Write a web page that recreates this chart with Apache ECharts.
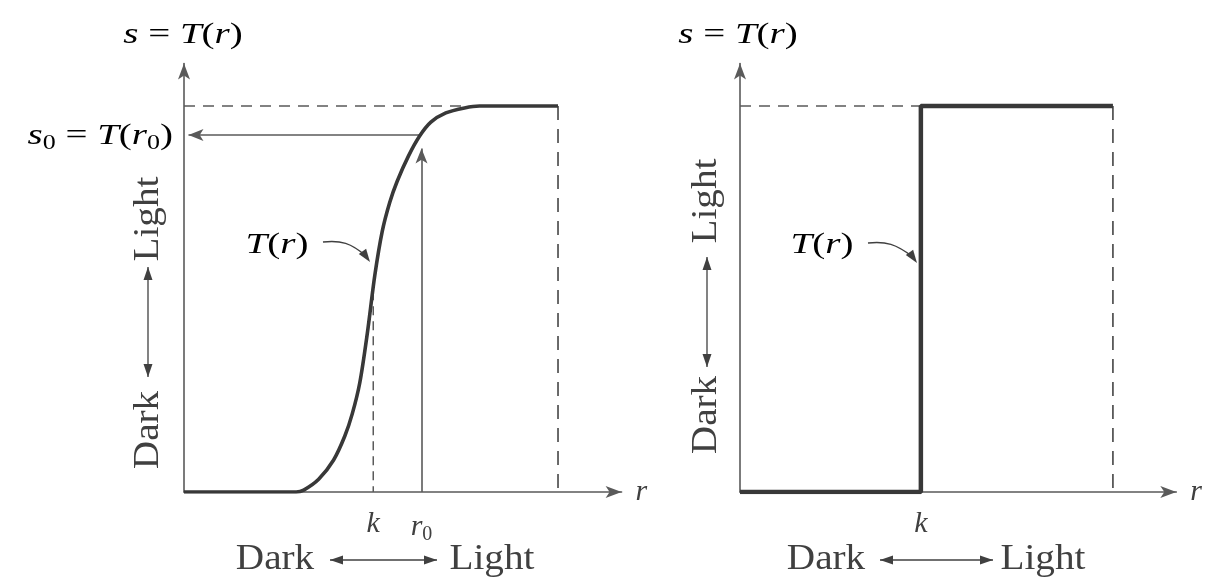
<!DOCTYPE html>
<html>
<head>
<meta charset="utf-8">
<title>s = T(r)</title>
<script src="https://cdn.jsdelivr.net/npm/echarts@6/dist/echarts.min.js"></script>
<style>
  html, body { margin: 0; background: #fff; }
  #main { width: 1205px; height: 581px; }
</style>
</head>
<body>
<div id="main"></div>
<script>
// left panel: contrast-stretching curve s = T(r)
var curveR = [0, 0.30, 0.32, 0.36, 0.40, 0.43, 0.45, 0.47, 0.49, 0.51, 0.53, 0.55, 0.57, 0.60, 0.63, 0.66, 0.70, 0.75, 0.79, 1.0];
var curveS = [0, 0, 0.005, 0.033, 0.083, 0.145, 0.203, 0.283, 0.41, 0.56, 0.675, 0.75, 0.805, 0.87, 0.922, 0.958, 0.982, 0.995, 1, 1];
var kLeft = 0.506, kLeftS = 0.52;
var r0 = 0.635, s0 = 0.925;

// right panel: thresholding function
var stepR = [0, 0.485, 0.485, 1.0];
var stepS = [0, 0, 1, 1];
var kRight = 0.485;

var rMax = 1.17, sMax = 1.11;

var ink = '#404040';
var axisInk = '#5a5a5a';
var serif = '"Liberation Serif", "DejaVu Serif", serif';

function pairs(xs, ys) {
  return xs.map(function (x, i) { return [x, ys[i]]; });
}

var mathRich = {
  i: { fontFamily: serif, fontStyle: 'italic', fontSize: 30, color: ink },
  n: { fontFamily: serif, fontSize: 30, color: ink },
  sub: { fontFamily: serif, fontSize: 20, color: ink, padding: [16, 0, 0, 0] }
};

function axisX(idx, labels) {
  return {
    gridIndex: idx, type: 'value', min: 0, max: rMax,
    name: '{i|r}', nameLocation: 'end', nameGap: 14,
    nameTextStyle: { rich: mathRich, verticalAlign: 'middle' },
    axisLine: { show: true, onZero: false, symbol: ['none', 'arrow'], symbolSize: [9, 16],
      lineStyle: { color: axisInk, width: 1.6 } },
    axisTick: { show: false },
    splitLine: { show: false },
    axisLabel: {
      show: true, margin: 17, customValues: labels,
      formatter: function (v) {
        return Math.abs(v - r0) < 1e-6 ? '{i|r}{sub|0}' : '{i|k}';
      },
      rich: mathRich
    }
  };
}

function axisY(idx) {
  return {
    gridIndex: idx, type: 'value', min: 0, max: sMax,
    axisLine: { show: true, onZero: false, symbol: ['none', 'arrow'], symbolSize: [9, 16],
      lineStyle: { color: axisInk, width: 1.6 } },
    axisTick: { show: false },
    splitLine: { show: false },
    axisLabel: { show: false }
  };
}

function lineSeries(idx, data, width, type, color) {
  return {
    type: 'line', xAxisIndex: idx, yAxisIndex: idx, data: data,
    symbol: 'none', silent: true,
    lineStyle: { color: color || ink, width: width, type: type || 'solid' }
  };
}

var curve = lineSeries(0, pairs(curveR, curveS), 3.6, 'solid', '#383838');
curve.smooth = 0.3;
curve.z = 5;

var r0Arrows = lineSeries(0, [], 1);
r0Arrows.markLine = {
  silent: true, symbol: ['none', 'arrow'], symbolSize: [9, 15],
  label: { show: false },
  lineStyle: { color: axisInk, width: 1.6, type: 'solid' },
  data: [
    [{ coord: [r0, 0] }, { coord: [r0, s0 - 0.035] }],
    [{ coord: [r0, s0] }, { coord: [0.012, s0] }]
  ]
};

var step = lineSeries(1, pairs(stepR, stepS), 4.5, 'solid', '#383838');
step.z = 5;

// annotation helpers (arrows and labels outside the plot)
function head(x, y, dx, dy) {
  var l = Math.sqrt(dx * dx + dy * dy), ux = dx / l, uy = dy / l;
  var bx = x - ux * 13, by = y - uy * 13;
  return { type: 'polygon', silent: true,
    shape: { points: [[x, y], [bx - uy * 4.5, by + ux * 4.5], [bx + uy * 4.5, by - ux * 4.5]] },
    style: { fill: ink } };
}
function dbl(x1, y1, x2, y2) {
  return [
    { type: 'line', silent: true, shape: { x1: x1, y1: y1, x2: x2, y2: y2 }, style: { stroke: ink, lineWidth: 1.3 } },
    head(x1, y1, x1 - x2, y1 - y2), head(x2, y2, x2 - x1, y2 - y1)
  ];
}
function word(txt, x, y, rot) {
  return { type: 'text', silent: true, x: x, y: y, rotation: rot || 0, scaleX: 1.12,
    style: { text: txt, font: '35px ' + serif, fill: ink, align: 'center', verticalAlign: 'middle' } };
}
function mathText(txt, x, y, align) {
  return { type: 'text', silent: true, x: x, y: y, scaleX: 1.3,
    style: { text: txt, rich: mathRich, align: align || 'center', verticalAlign: 'middle' } };
}
function leader(x, y, tx, ty) {
  return [
    { type: 'bezierCurve', silent: true,
      shape: { x1: x, y1: y, cpx1: x + 18, cpy1: y - 2, cpx2: x + 28, cpy2: y + 1, x2: tx - 4, y2: ty - 6 },
      style: { stroke: ink, lineWidth: 1.4, fill: null } },
    head(tx, ty, 5, 7)
  ];
}

var graphics = [].concat(
  mathText('{i|s}{n| = }{i|T}{n|(}{i|r}{n|)}', 183, 35),
  mathText('{i|s}{sub|0}{n| = }{i|T}{n|(}{i|r}{sub|0}{n|)}', 173, 136, 'right'),
  word('Light', 149, 219, Math.PI / 2),
  word('Dark', 149, 430, Math.PI / 2),
  dbl(148, 267, 148, 377),
  mathText('{i|T}{n|(}{i|r}{n|)}', 277, 245),
  leader(323, 242, 370, 262),
  word('Dark', 275, 560),
  word('Light', 492, 560),
  dbl(330, 560, 437, 560),

  mathText('{i|s}{n| = }{i|T}{n|(}{i|r}{n|)}', 738, 35),
  word('Light', 707, 201, Math.PI / 2),
  word('Dark', 707, 415, Math.PI / 2),
  dbl(707, 257, 707, 367),
  mathText('{i|T}{n|(}{i|r}{n|)}', 822, 245),
  leader(868, 243, 917, 263),
  word('Dark', 826, 560),
  word('Light', 1043, 560),
  dbl(880, 560, 993, 560)
);

var chart = echarts.init(document.getElementById('main'));
chart.setOption({
  animation: false,
  backgroundColor: '#fff',
  grid: [
    { left: 184, top: 63.5, width: 437.6, height: 428.5 },
    { left: 740, top: 63.5, width: 438.8, height: 428.5 }
  ],
  xAxis: [axisX(0, [kLeft, r0]), axisX(1, [kRight])],
  yAxis: [axisY(0), axisY(1)],
  series: [
    curve,
    lineSeries(0, [[0, 1], [0.76, 1]], 1.5, [11, 8], axisInk),
    lineSeries(0, [[1, 1], [1, 0]], 1.8, [14, 9], axisInk),
    lineSeries(0, [[kLeft, kLeftS], [kLeft, 0]], 1.5, [9, 6], axisInk),
    r0Arrows,
    step,
    lineSeries(1, [[0, 1], [kRight, 1]], 1.5, [11, 8], axisInk),
    lineSeries(1, [[1, 1], [1, 0]], 1.8, [14, 9], axisInk)
  ],
  graphic: graphics
});
</script>
</body>
</html>
